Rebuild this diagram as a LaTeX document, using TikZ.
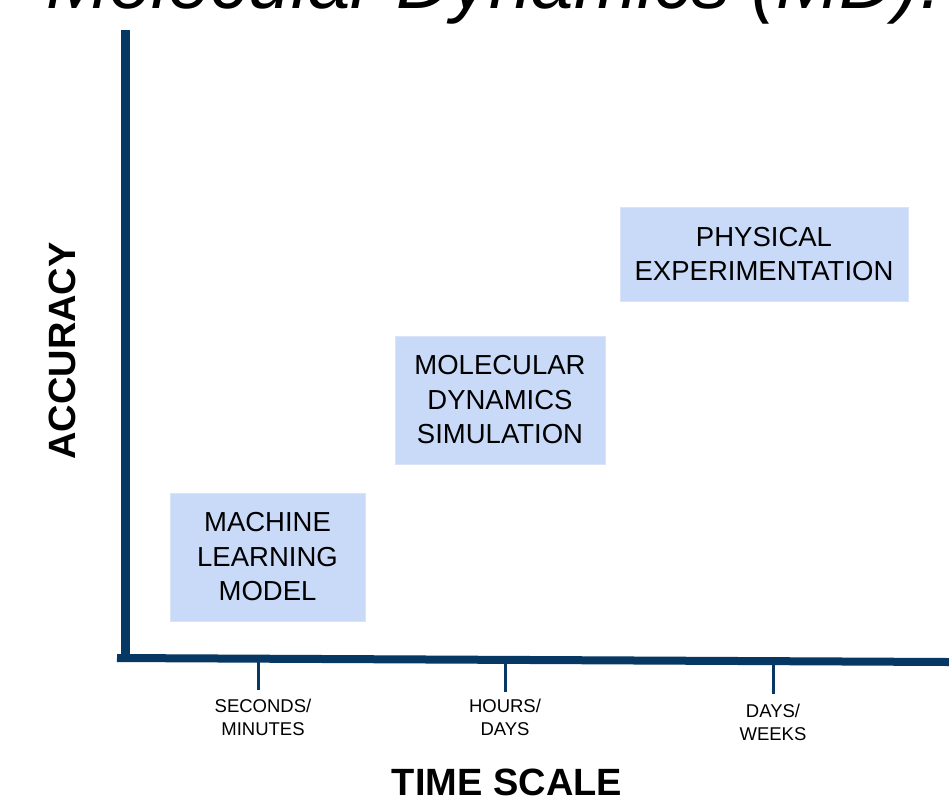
\documentclass[tikz,border=0pt]{standalone}
\usepackage{fontspec}
\setmainfont{Liberation Sans}
\definecolor{axisblue}{HTML}{073763}
\definecolor{boxblue}{HTML}{C9DAF8}
\definecolor{boxedge}{HTML}{D9E4F8}
\begin{document}
\begin{tikzpicture}[x=1pt,y=-1pt,
  stagebox/.style={rectangle, fill=boxblue, draw=boxedge, line width=0.8pt, align=center,
    inner sep=0pt, font=\fontsize{27.5}{34.5}\selectfont},
  ticklabel/.style={align=center, font=\fontsize{18.5}{23}\selectfont},
  axislabel/.style={font=\fontsize{38}{44}\selectfont\bfseries},
  tickline/.style={draw=axisblue, line width=3pt}]
\clip (0,0) rectangle (949,796);
\fill[white] (0,0) rectangle (949,796);
% title (cut off at top)
\node[anchor=base west, inner sep=0pt, font=\fontsize{76}{88}\selectfont\itshape] (title) at (46,8) {Molecular Dynamics (MD):};
% axes
\coordinate (ytop) at (125.5,30);
\coordinate (origin) at (125.5,658);
\coordinate (xleft) at (117,658);
\coordinate (xright) at (949,662);
\draw[axisblue, line width=8.5pt] (ytop) -- (origin);
\draw[axisblue, line width=8pt] (xleft) -- (xright);
% ticks
\coordinate (t1a) at (258.5,660); \coordinate (t1b) at (258.5,690);
\coordinate (t2a) at (505.5,661); \coordinate (t2b) at (505.5,692);
\coordinate (t3a) at (773.5,663); \coordinate (t3b) at (773.5,694);
\draw[tickline] (t1a) -- (t1b);
\draw[tickline] (t2a) -- (t2b);
\draw[tickline] (t3a) -- (t3b);
% tick labels
\node[ticklabel] (l1) at (263,717) {SECONDS/\\MINUTES};
\node[ticklabel] (l2) at (505,717) {HOURS/\\DAYS};
\node[ticklabel] (l3) at (773,722) {DAYS/\\WEEKS};
% axis labels
\node[axislabel, anchor=base, inner sep=0pt] (xlab) at (507,795) {TIME SCALE};
\node[axislabel, rotate=90, inner sep=0pt] (ylab) at (62,351) {ACCURACY};
% boxes
\node[stagebox, minimum width=195pt, minimum height=128pt] (ml) at (267.5,557) {MACHINE\\LEARNING\\MODEL};
\node[stagebox, minimum width=210pt, minimum height=128pt] (md) at (500,400) {MOLECULAR\\DYNAMICS\\SIMULATION};
\node[stagebox, minimum width=288pt, minimum height=94pt] (pe) at (764,254) {PHYSICAL\\EXPERIMENTATION};
\end{tikzpicture}
\end{document}
